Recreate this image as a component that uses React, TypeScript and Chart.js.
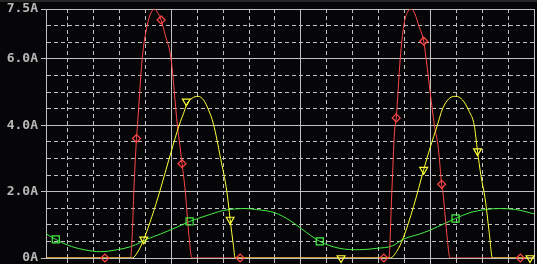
import React, { useEffect, useRef } from 'react';
import { Chart, registerables } from 'chart.js';

Chart.register(...registerables);

// ---- axis ranges / ticks ----
const X_MIN = 5.16;
const X_MAX = 24;
const Y_MIN = 0;
const Y_MAX = 7.5;
const yTickValues = [0, 2, 4, 6, 7.5];
const yTickLabels = ['0A', '2.0A', '4.0A', '6.0A', '7.5A'];
const majorXValues = [10, 15, 20, 24];

// ---- red trace ----
const redX = [5.16, 8.423, 8.5, 8.55, 8.654, 8.692, 8.873, 9.065, 9.192, 9.346, 9.462, 9.604, 9.769, 9.988, 10.231, 10.327, 10.412, 10.538, 10.665, 10.796, 18.396, 18.512, 18.615, 18.681, 18.835, 18.973, 19.115, 19.258, 19.404, 19.55, 19.742, 19.835, 20.154, 20.308, 20.435, 20.481, 20.627, 20.758, 24];
const redY = [0, 0, 0.88, 2.0, 3.6, 4.0, 6.0, 7.0, 7.35, 7.5, 7.4, 7.17, 6.7, 6.0, 4.0, 3.4, 2.84, 2.0, 0.78, 0, 0, 2.0, 3.8, 4.22, 6.0, 7.0, 7.4, 7.5, 7.35, 7.0, 6.53, 6.0, 4.0, 3.3, 2.22, 2.0, 0.78, 0, 0];
const redMarkX = [7.435, 8.654, 9.604, 10.412, 12.654, 18.204, 18.681, 19.742, 20.435, 23.473];
const redMarkY = [0, 3.6, 7.17, 2.84, 0, 0, 4.22, 6.53, 2.22, 0];

// ---- yellow trace ----
const yellowX = [5.16, 8.488, 8.7, 8.935, 9.25, 9.55, 9.9, 10.219, 10.346, 10.473, 10.577, 10.796, 11.027, 11.242, 11.435, 11.627, 11.9, 12.142, 12.269, 12.396, 12.462, 18.45, 18.7, 18.935, 19.35, 19.742, 20.0, 20.25, 20.473, 20.731, 20.988, 21.242, 21.5, 21.692, 21.819, 21.95, 22.115, 22.269, 22.396, 24];
const yellowY = [0, 0, 0.18, 0.56, 1.25, 2.0, 2.95, 3.8, 4.1, 4.36, 4.6, 4.81, 4.87, 4.76, 4.46, 4.03, 3.0, 2.0, 1.16, 0.37, 0, 0, 0.2, 0.57, 1.55, 2.66, 3.35, 3.95, 4.5, 4.81, 4.87, 4.76, 4.41, 4.0, 3.22, 2.49, 1.78, 0.78, 0, 0];
const yellowMarkX = [8.935, 10.577, 12.269, 16.55, 19.742, 21.819, 23.846];
const yellowMarkY = [0.56, 4.72, 1.16, 0, 2.66, 3.22, 0];

// ---- green trace ----
const greenX = [5.16, 5.538, 5.988, 6.627, 7.269, 7.912, 8.423, 8.808, 9.065, 9.577, 10.219, 10.704, 11.373, 12.012, 12.846, 13.296, 14.0, 14.577, 15.027, 15.731, 16.5, 17.269, 17.912, 18.55, 18.935, 19.577, 19.962, 20.604, 20.973, 21.5, 22.142, 22.654, 23.296, 24];
const greenY = [0.73, 0.56, 0.39, 0.25, 0.19, 0.25, 0.34, 0.47, 0.57, 0.72, 0.93, 1.10, 1.28, 1.43, 1.49, 1.46, 1.36, 1.13, 0.88, 0.50, 0.29, 0.25, 0.29, 0.37, 0.56, 0.72, 0.83, 1.06, 1.19, 1.36, 1.46, 1.49, 1.46, 1.33];
const greenMarkX = [5.538, 10.704, 15.731, 20.973];
const greenMarkY = [0.56, 1.10, 0.50, 1.19];

const RED = '#ff4646';
const YELLOW = '#ffff38';
const GREEN = '#46f046';
const GRID = '#c0c0c0';
const BG = '#060608';
const DASH = [4, 3];

const pts = (xs: number[], ys: number[]) => xs.map((x, i) => ({ x, y: ys[i] }));
const near = (list: number[], v: number) => list.some((t) => Math.abs(t - v) < 1e-6);

const bgPlugin = {
  id: 'bg',
  beforeDraw(chart: any) {
    const { ctx, width, height } = chart;
    ctx.save();
    ctx.fillStyle = BG;
    ctx.fillRect(0, 0, width, height);
    ctx.fillStyle = '#262626';
    ctx.fillRect(0, 0, width, 2);
    ctx.restore();
  },
};

export default function App() {
  const ref = useRef<HTMLCanvasElement | null>(null);

  useEffect(() => {
    document.body.style.margin = '0';
    document.body.style.background = BG;
    const canvas = ref.current;
    if (!canvas) return;

    const lineDs = (label: string, xs: number[], ys: number[], color: string) => ({
      type: 'line' as const,
      label,
      data: pts(xs, ys),
      borderColor: color,
      borderWidth: 1,
      pointRadius: 0,
      fill: false,
      cubicInterpolationMode: 'monotone' as const,
    });
    const markDs = (label: string, xs: number[], ys: number[], color: string, style: string, radius: number, rotation = 0) => ({
      type: 'line' as const,
      label,
      data: pts(xs, ys),
      showLine: false,
      borderColor: color,
      backgroundColor: 'transparent',
      pointStyle: style,
      pointRadius: radius,
      pointRotation: rotation,
      pointBorderWidth: 1.2,
      pointBorderColor: color,
      pointBackgroundColor: 'transparent',
      clip: false,
    });

    const chart = new Chart(canvas, {
      type: 'line',
      data: {
        datasets: [
          markDs('yellow markers', yellowMarkX, yellowMarkY, YELLOW, 'triangle', 4.5, 180),
          markDs('red markers', redMarkX, redMarkY, RED, 'rectRot', 4),
          markDs('green markers', greenMarkX, greenMarkY, GREEN, 'rect', 5),
          lineDs('yellow', yellowX, yellowY, YELLOW),
          lineDs('red', redX, redY, RED),
          lineDs('green', greenX, greenY, GREEN),
        ] as any,
      },
      options: {
        responsive: false,
        animation: false,
        events: [],
        layout: { padding: { top: 9, left: 0, right: 3, bottom: 0 }, autoPadding: false },
        plugins: { legend: { display: false }, tooltip: { enabled: false } },
        scales: {
          x: {
            type: 'linear',
            min: X_MIN,
            max: X_MAX,
            afterFit: (s: any) => {
              s.height = 6;
              s.paddingLeft = 0;
              s.paddingRight = 0;
            },
            ticks: { display: false, stepSize: 1, includeBounds: false, autoSkip: false },
            grid: {
              color: GRID,
              lineWidth: 1,
              drawTicks: true,
              tickLength: 6,
              tickColor: GRID,
              tickBorderDash: (c: any) => (c.tick && near(majorXValues, c.tick.value) ? [] : DASH),
            },
            border: {
              display: true,
              color: GRID,
              dash: (c: any) => (!c.tick || near(majorXValues, c.tick.value) ? [] : DASH),
            },
          },
          y: {
            type: 'linear',
            min: Y_MIN,
            max: Y_MAX,
            afterFit: (s: any) => {
              s.width = 46;
              s.paddingTop = 0;
              s.paddingBottom = 0;
            },
            ticks: {
              stepSize: 0.5,
              autoSkip: false,
              includeBounds: false,
              padding: 3,
              color: '#b8b8b8',
              font: { family: "'DejaVu Sans Mono', monospace", size: 13, weight: 'bold' },
              callback: (v: any) => {
                const i = yTickValues.findIndex((t) => Math.abs(t - Number(v)) < 1e-6);
                return i >= 0 ? yTickLabels[i] : '';
              },
            },
            grid: {
              color: GRID,
              lineWidth: 1,
              drawTicks: true,
              tickLength: 5,
              tickColor: (c: any) => (c.tick && near(yTickValues, c.tick.value) ? GRID : 'rgba(0,0,0,0)'),
              tickBorderDash: [],
            },
            border: {
              display: true,
              color: GRID,
              dash: (c: any) => (!c.tick || near(yTickValues, c.tick.value) ? [] : DASH),
            },
          },
        },
      } as any,
      plugins: [bgPlugin],
    });
    return () => chart.destroy();
  }, []);

  return <canvas ref={ref} width={537} height={264} style={{ display: 'block' }} />;
}
